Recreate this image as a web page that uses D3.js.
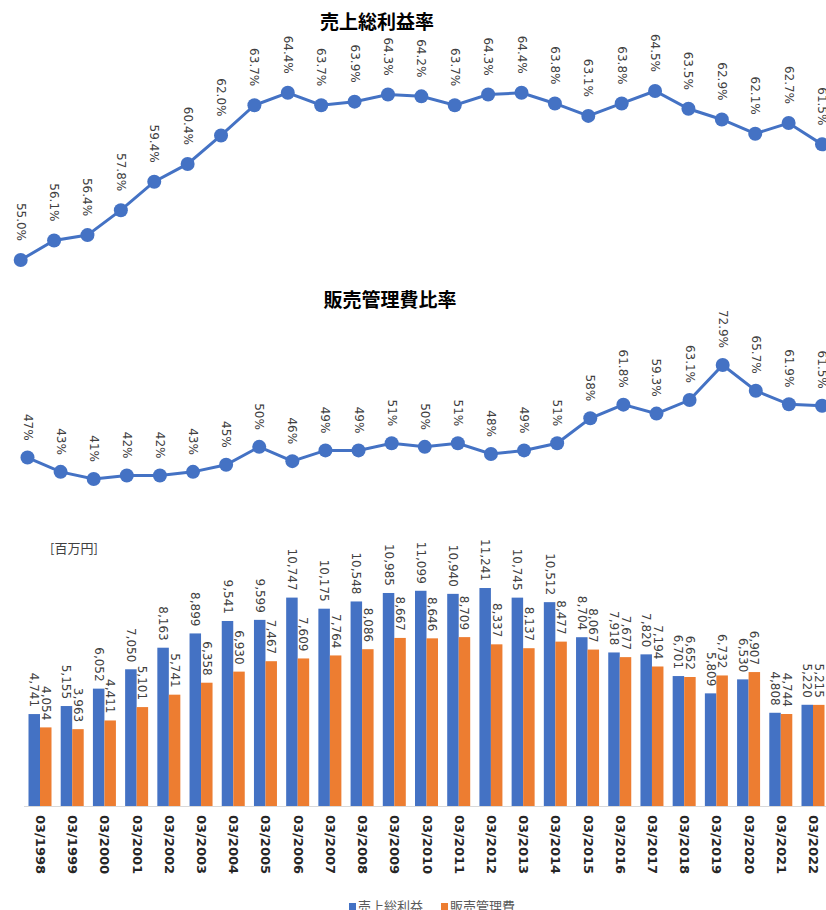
<!DOCTYPE html>
<html>
<head>
<meta charset="utf-8">
<script src="https://cdn.jsdelivr.net/npm/d3@7"></script>
<style>
  html, body { margin: 0; padding: 0; background: #fff; overflow: hidden; }
  svg { display: block; }
</style>
</head>
<body>
<svg id="chart" width="826" height="910"></svg>
<script>
// Fiscal years (March year-end)
const categories = ["03/1998","03/1999","03/2000","03/2001","03/2002","03/2003","03/2004","03/2005",
  "03/2006","03/2007","03/2008","03/2009","03/2010","03/2011","03/2012","03/2013","03/2014",
  "03/2015","03/2016","03/2017","03/2018","03/2019","03/2020","03/2021","03/2022"];

// 売上総利益率 (%)
const grossMarginRate = [55.0, 56.1, 56.4, 57.8, 59.4, 60.4, 62.0, 63.7, 64.4, 63.7, 63.9, 64.3, 64.2,
  63.7, 64.3, 64.4, 63.8, 63.1, 63.8, 64.5, 63.5, 62.9, 62.1, 62.7, 61.5];

// 販売管理費比率 (%)
const sgaRate = [47, 43, 41, 42, 42, 43, 45, 50, 46, 49, 49, 51, 50, 51, 48, 49, 51, 58,
  61.8, 59.3, 63.1, 72.9, 65.7, 61.9, 61.5];

// 売上総利益 / 販売管理費 (百万円)
const grossProfit = [4741, 5155, 6052, 7050, 8163, 8899, 9541, 9599, 10747, 10175, 10548, 10985, 11099,
  10940, 11241, 10745, 10512, 8704, 7918, 7820, 6701, 5809, 6530, 4808, 5220];
const sgaExpense = [4054, 3963, 4411, 5101, 5741, 6358, 6930, 7467, 7609, 7764, 8086, 8667, 8646,
  8709, 8337, 8137, 8477, 8067, 7677, 7194, 6652, 6732, 6907, 4744, 5215];

const titles = ["売上総利益率", "販売管理費比率"];
const unitLabel = "[百万円]";
const legendLabels = ["売上総利益", "販売管理費"];

const BLUE = "#4472C4", ORANGE = "#ED7D31", TEXT = "#404040";
const NUM_FONT = "'DejaVu Sans', Verdana, sans-serif";
const JP_FONT = "'Noto Sans CJK JP', 'Noto Sans', sans-serif";

const svg = d3.select("#chart");

// ---------- generic rate line panel ----------
function ratePanel(opts) {
  const g = svg.append("g");
  const x = d3.scalePoint().domain(categories).range(opts.xRange);
  const y = d3.scaleLinear().domain(opts.yDomain).range(opts.yRange);
  const rows = categories.map((c, i) => ({ c, v: opts.values[i] }));

  g.append("text")
    .attr("x", opts.titleX).attr("y", opts.titleY)
    .attr("text-anchor", "middle")
    .attr("font-family", JP_FONT).attr("font-weight", "bold")
    .attr("font-size", 19).attr("fill", "#000")
    .text(opts.title);

  g.append("path")
    .datum(rows)
    .attr("fill", "none").attr("stroke", BLUE).attr("stroke-width", 3)
    .attr("d", d3.line().x(d => x(d.c)).y(d => y(d.v)));

  g.selectAll("circle").data(rows).join("circle")
    .attr("cx", d => x(d.c)).attr("cy", d => y(d.v)).attr("r", 7)
    .attr("fill", BLUE);

  g.selectAll("text.lbl").data(rows).join("text")
    .attr("class", "lbl")
    .attr("transform", d => `translate(${x(d.c)},${y(d.v) - opts.labelGap}) rotate(90)`)
    .attr("text-anchor", "end").attr("dominant-baseline", "central")
    .attr("font-family", NUM_FONT).attr("font-size", 12).attr("fill", TEXT)
    .text(d => opts.format(d.v));
}

ratePanel({
  title: titles[0], titleX: 377, titleY: 29,
  values: grossMarginRate,
  xRange: [20.7, 822],
  yDomain: [55, 64.5], yRange: [260, 91],
  labelGap: 19,
  format: v => d3.format(".1f")(v) + "%"
});

ratePanel({
  title: titles[1], titleX: 390, titleY: 307,
  values: sgaRate,
  xRange: [27.5, 822],
  yDomain: [41, 72.9], yRange: [479, 365],
  labelGap: 17,
  format: v => (Number.isInteger(v) ? v : d3.format(".1f")(v)) + "%"
});

// ---------- grouped bar panel ----------
(function barPanel() {
  const g = svg.append("g");
  const x = d3.scalePoint().domain(categories).range([40, 813]);
  const y = d3.scaleLinear().domain([0, 12000]).range([806, 573.3]);
  const bw = 11.5;
  const series = [
    { values: grossProfit, color: BLUE, dx: -bw },
    { values: sgaExpense, color: ORANGE, dx: 0 }
  ];

  g.append("text")
    .attr("x", 50).attr("y", 553)
    .attr("font-family", JP_FONT).attr("font-size", 13).attr("fill", TEXT)
    .text(unitLabel);

  series.forEach(s => {
    const rows = categories.map((c, i) => ({ c, v: s.values[i] }));
    g.append("g").selectAll("rect").data(rows).join("rect")
      .attr("x", d => x(d.c) + s.dx).attr("width", bw)
      .attr("y", d => y(d.v)).attr("height", d => y(0) - y(d.v))
      .attr("fill", s.color);
  });

  // baseline axis with rotated category labels
  const axis = g.append("g").attr("transform", `translate(0,${y(0)})`)
    .call(d3.axisBottom(x).tickSize(0).tickPadding(0));
  axis.select(".domain").attr("stroke", "#d9d9d9").attr("stroke-width", 1)
    .attr("d", "M24,0.5H826");
  axis.selectAll(".tick text")
    .attr("transform", "translate(0,9) rotate(90)")
    .attr("x", 0).attr("y", 0).attr("dy", null)
    .attr("text-anchor", "start").attr("dominant-baseline", "central")
    .attr("font-family", NUM_FONT).attr("font-weight", "bold")
    .attr("font-size", 13).attr("fill", "#262626");

  series.forEach(s => {
    const rows = categories.map((c, i) => ({ c, v: s.values[i] }));
    g.append("g").selectAll("text").data(rows).join("text")
      .attr("transform", d => `translate(${x(d.c) + s.dx + bw / 2},${y(d.v) - 7}) rotate(90)`)
      .attr("text-anchor", "end").attr("dominant-baseline", "central")
      .attr("font-family", NUM_FONT).attr("font-size", 12).attr("fill", TEXT)
      .text(d => d3.format(",")(d.v));
  });

  // legend
  const legend = g.append("g").attr("transform", "translate(349,911)");
  const colors = [BLUE, ORANGE];
  let off = 0;
  legendLabels.forEach((t, i) => {
    legend.append("rect").attr("x", off).attr("y", -8).attr("width", 7).attr("height", 7)
      .attr("fill", colors[i]);
    const tx = legend.append("text").attr("x", off + 9).attr("y", 0)
      .attr("font-family", JP_FONT).attr("font-size", 13).attr("fill", "#595959").text(t);
    off += 9 + tx.node().getComputedTextLength() + 18;
  });
})();
</script>
</body>
</html>
